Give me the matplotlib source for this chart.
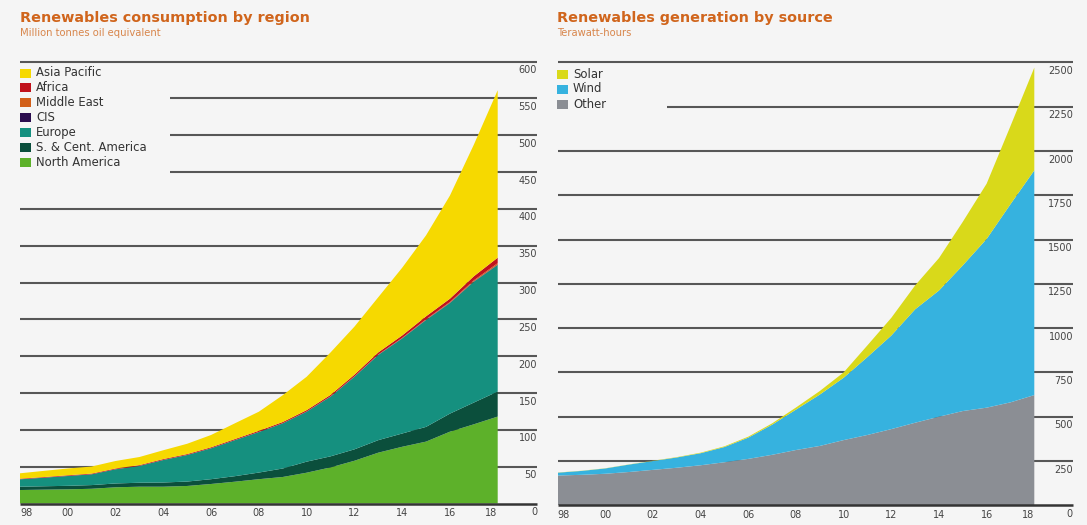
import matplotlib
matplotlib.use("Agg")
import matplotlib.pyplot as plt
from matplotlib.patches import Rectangle

# ---------------------------------------------------------------- data
years = list(range(1998, 2019))

# Renewables consumption by region, million tonnes oil equivalent
north_america = [18.3, 18.8, 19.2, 20.0, 22.0, 22.8, 22.8, 23.8, 26.5, 29.6, 33.0,
                 36.0, 41.8, 49.0, 58.0, 69.0, 77.0, 84.0, 97.5, 107.5, 118.0]
sc_america = [4.5, 4.6, 4.8, 5.0, 5.2, 5.4, 5.7, 6.0, 6.5, 7.5, 9.0,
              11.5, 15.0, 15.0, 15.5, 17.0, 18.0, 20.0, 24.5, 29.5, 34.0]
europe = [10.0, 11.6, 13.3, 14.6, 19.2, 22.8, 30.5, 36.0, 41.9, 48.9, 55.0,
          61.3, 67.8, 81.0, 98.5, 115.6, 129.0, 145.0, 150.0, 164.0, 171.7]
cis = [0.1, 0.1, 0.1, 0.1, 0.1, 0.1, 0.1, 0.1, 0.1, 0.1, 0.1,
       0.1, 0.2, 0.2, 0.2, 0.3, 0.3, 0.4, 0.5, 0.5, 0.6]
middle_east = [0.0, 0.0, 0.0, 0.0, 0.0, 0.0, 0.1, 0.1, 0.1, 0.1, 0.1,
               0.1, 0.1, 0.2, 0.3, 0.4, 0.5, 0.7, 1.0, 1.4, 2.0]
africa = [0.8, 0.8, 0.9, 0.9, 1.0, 1.0, 1.1, 1.1, 1.2, 1.3, 1.5,
          1.6, 1.8, 2.0, 2.3, 2.8, 3.3, 4.0, 4.5, 5.5, 7.4]
asia_pacific = [7.3, 8.4, 9.2, 9.6, 10.2, 11.0, 12.0, 14.0, 16.7, 21.4, 25.9,
                36.4, 45.3, 57.6, 65.2, 74.9, 91.9, 109.9, 140.0, 178.6, 227.3]

# Renewables generation by source, terawatt-hours
other = [168, 172, 178, 188, 200, 212, 226, 243, 262, 285, 312,
         335, 368, 397, 430, 466, 500, 532, 551, 581, 622]
wind = [16, 22, 30, 42, 50, 58, 68, 86, 120, 170, 228,
        290, 352, 440, 528, 640, 712, 822, 952, 1118, 1268]
solar = [1, 1, 1, 1, 1.5, 2, 3, 4, 5.5, 7.5, 12,
         20, 30, 66, 100, 135, 183, 246, 312, 441, 580]

region_names = ["Asia Pacific", "Africa", "Middle East", "CIS", "Europe",
                "S. & Cent. America", "North America"]
region_colors = ["#f6d900", "#c1121c", "#d2601a", "#2b0d4f", "#15907f",
                 "#0b4f3c", "#5db12a"]
source_names = ["Solar", "Wind", "Other"]
source_colors = ["#d9d91a", "#36b2df", "#8b8e94"]

x_tick_years = list(range(1998, 2019, 2))
left_ticks = list(range(0, 601, 50))
right_ticks = list(range(0, 2501, 250))

# ---------------------------------------------------------------- figure
W, H = 1087, 525
fig = plt.figure(figsize=(W / 100, H / 100), dpi=100)
fig.patch.set_facecolor("#f5f5f5")

TITLE_COL = "#d0651c"
SUB_COL = "#d8864c"
GRID_COL = "#575757"
TICK_COL = "#444444"
TEXT_COL = "#333333"


def fx(x):
    return x / W


def fy(y):
    return 1 - y / H


def make_axes(x0, x1, y_zero, y_top, px_per_year, ymax):
    ax = fig.add_axes([fx(x0), fy(y_zero), (x1 - x0) / W, (y_zero - y_top) / H])
    ax.set_xlim(1998, 1998 + (x1 - x0) / px_per_year)
    ax.set_ylim(0, ymax)
    ax.axis("off")
    return ax


def draw_grid(ax, ticks, short_ticks, short_start):
    xmax = ax.get_xlim()[1]
    for v in ticks:
        if v == 0:
            ax.hlines(0, 1998, xmax, color="#343434", lw=1.8, zorder=6,
                      clip_on=False)
        else:
            start = short_start if v in short_ticks else 1998
            ax.hlines(v, start, xmax, color=GRID_COL, lw=1.5, zorder=1,
                      clip_on=False)
        ax.annotate(str(v), xy=(xmax, v), xytext=(0, -2.6),
                    textcoords="offset points", ha="right", va="top",
                    fontsize=7, color=TICK_COL, family="DejaVu Sans")
    for yr in x_tick_years:
        ha = "center"
        if yr == 1998:
            ha = "left"
        elif yr == 2018:
            ha = "right"
        ax.annotate(f"{yr % 100:02d}", xy=(yr, 0), xytext=(0, -3.2),
                    textcoords="offset points", ha=ha, va="top",
                    fontsize=7, color=TICK_COL, family="DejaVu Sans")


def draw_legend(x, y0, step, names, colors):
    for i, (name, col) in enumerate(zip(names, colors)):
        yc = y0 + i * step
        fig.add_artist(Rectangle((fx(x), fy(yc + 4.5)), 11 / W, 9 / H,
                                 transform=fig.transFigure, color=col, lw=0))
        fig.text(fx(x + 16), fy(yc), name, ha="left", va="center",
                 fontsize=8.4, color=TEXT_COL, family="DejaVu Sans")


def draw_titles(x, title, subtitle):
    fig.text(fx(x), fy(18), title, ha="left", va="center", fontsize=10.4,
             fontweight="bold", color=TITLE_COL, family="DejaVu Sans")
    fig.text(fx(x), fy(33), subtitle, ha="left", va="center", fontsize=7.2,
             color=SUB_COL, family="DejaVu Sans")


# ---------------------------------------------------------------- left chart
ax1 = make_axes(20, 537, 503.5, 61.5, 23.885, 600)
ax1.stackplot(years, north_america, sc_america, europe, cis, middle_east,
              africa, asia_pacific, colors=region_colors[::-1], lw=0,
              zorder=3)
draw_grid(ax1, left_ticks, (450, 500, 550), 1998 + 150 / 23.885)
draw_titles(20, "Renewables consumption by region",
            "Million tonnes oil equivalent")
draw_legend(20, 73, 14.9, region_names, region_colors)

# ---------------------------------------------------------------- right chart
ax2 = make_axes(557.7, 1073, 505.3, 62.3, 23.83, 2500)
ax2.stackplot(years, other, wind, solar, colors=source_colors[::-1], lw=0,
              zorder=3)
draw_grid(ax2, right_ticks, (2250,), 1998 + (667 - 557.7) / 23.83)
draw_titles(557, "Renewables generation by source", "Terawatt-hours")
draw_legend(557, 74, 15, source_names, source_colors)

fig.savefig("out.png", dpi=100, facecolor=fig.get_facecolor())
